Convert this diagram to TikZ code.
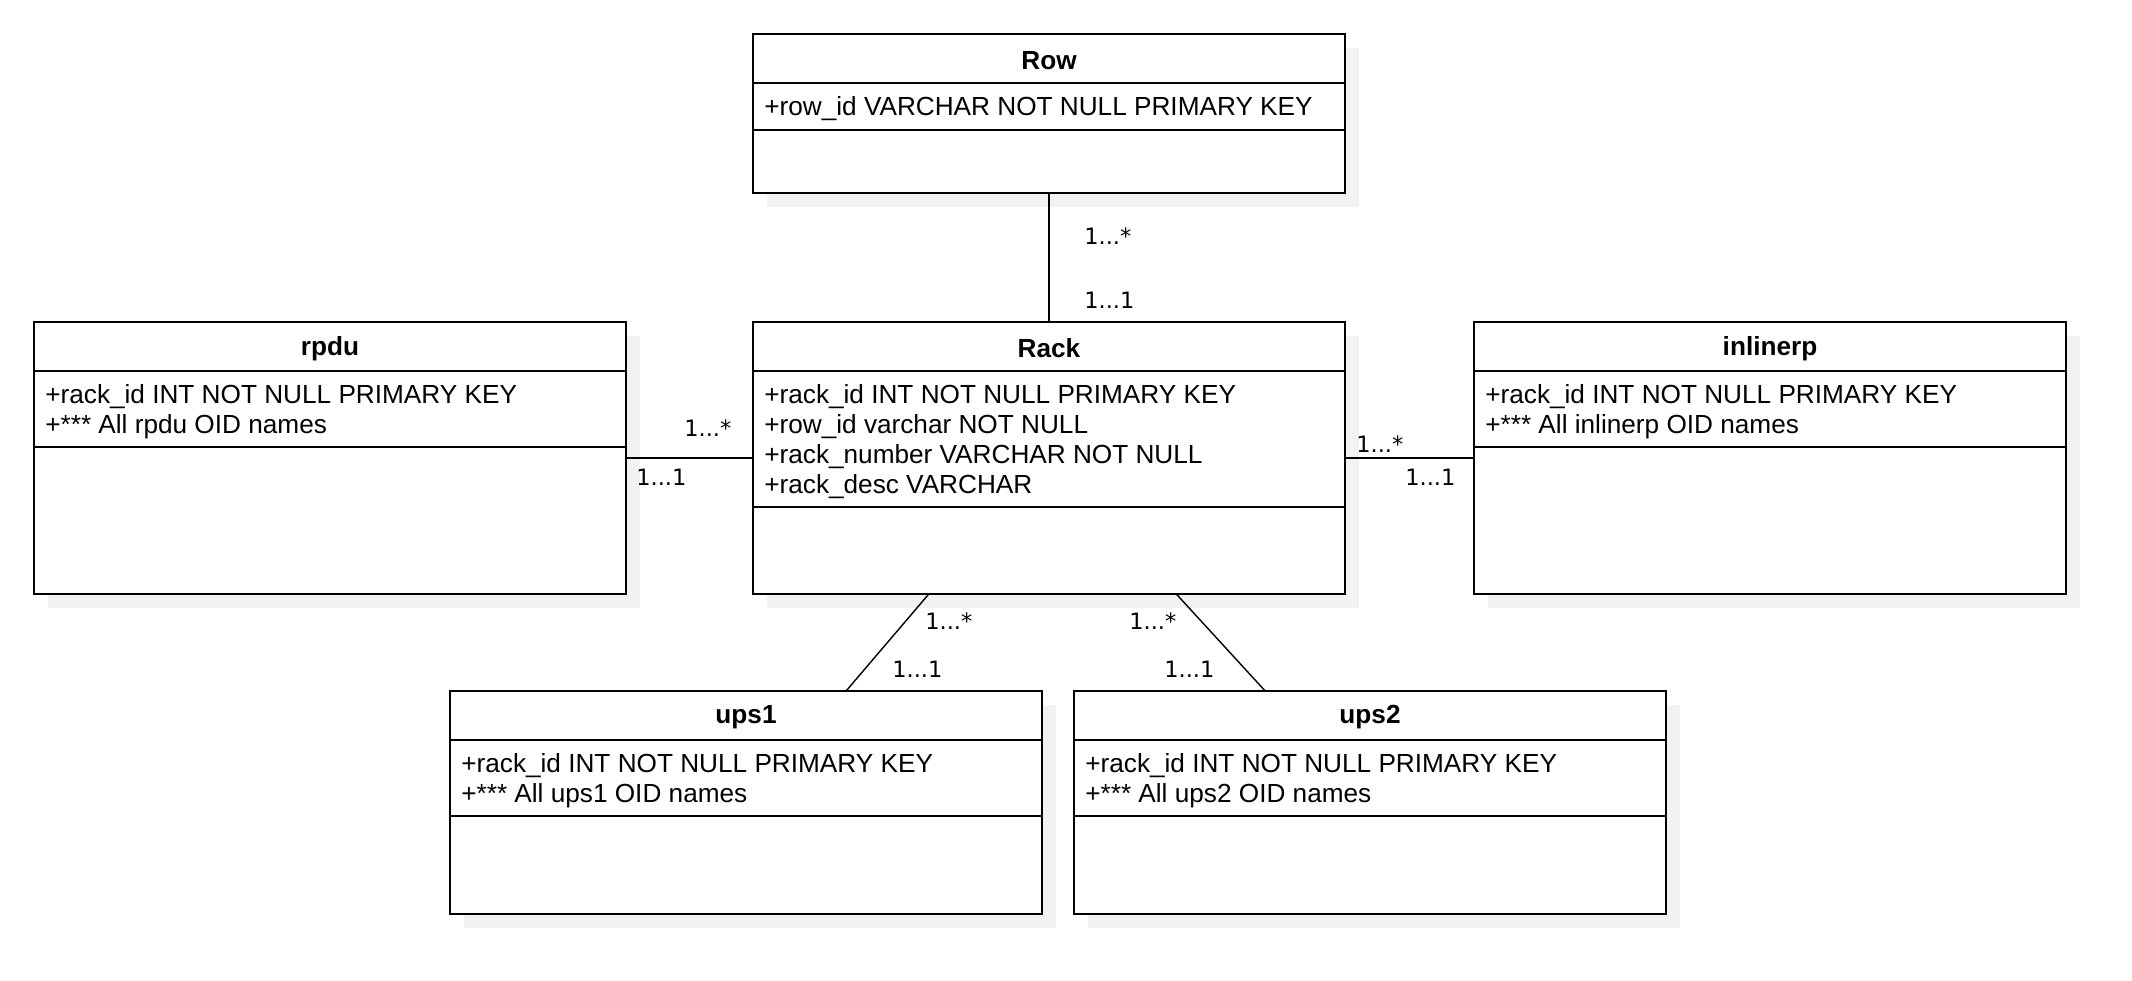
\documentclass[tikz,border=0pt]{standalone}
\usepackage{fontspec}
\setmainfont{Liberation Sans}
\newfontfamily\multfont{DejaVu Sans}
\usetikzlibrary{calc}
\definecolor{ink}{HTML}{000000}
\definecolor{shadowgray}{HTML}{F2F2F2}
\newcommand{\clw}{11.84}   % class box width
\newcommand{\hdr}{0.98}    % title band height
\newcommand{\shoff}{0.28}  % shadow offset
% #1 name, #2 x, #3 y (top left), #4 height, #5 attribute band, #6 title, #7 attributes
\newcommand{\umlclass}[7]{%
  \begin{scope}[shift={(#2,#3)}, name prefix=#1-]
    \fill[shadowgray] (\shoff,-\shoff) rectangle ({\clw+\shoff},{-#4-\shoff});
    \draw[ink, line width=.95pt, fill=white] (0,0) rectangle (\clw,-#4);
    \draw[ink, line width=.95pt] (0,-\hdr) -- (\clw,-\hdr);
    \draw[ink, line width=.95pt] (0,{-\hdr-#5}) -- (\clw,{-\hdr-#5});
    \coordinate (nw) at (0,0);
    \coordinate (ne) at (\clw,0);
    \coordinate (sw) at (0,-#4);
    \coordinate (se) at (\clw,-#4);
    \coordinate (n)  at ({\clw/2},0);
    \coordinate (s)  at ({\clw/2},-#4);
    \coordinate (w)  at (0,{-#4/2});
    \coordinate (e)  at (\clw,{-#4/2});
    \node[classname] (title) at ({\clw/2},{-\hdr/2-0.04}) {#6};
    \node[attrs] (attrs) at (0.22,{-\hdr-#5/2-0.05}) {#7};
  \end{scope}}

\begin{document}
\begin{tikzpicture}[
  classname/.style={inner sep=0pt, font=\bfseries\fontsize{14.9}{17.1}\selectfont},
  attrs/.style={anchor=west, align=left, inner sep=0pt, font=\fontsize{14.9}{17.07}\selectfont},
  mult/.style={anchor=west, inner sep=0pt, font=\multfont\fontsize{12.8}{15}\selectfont},
  assoc/.style={ink, line width=.8pt}]

\useasboundingbox (0,0) rectangle (42.64,-19.6);

% ================= classes =================
\umlclass{Row}{15.06}{-0.68}{3.18}{0.94}{Row}
  {+row\_id VARCHAR NOT NULL PRIMARY KEY}
\umlclass{rpdu}{0.68}{-6.44}{5.44}{1.52}{rpdu}
  {+rack\_id INT NOT NULL PRIMARY KEY\\+*** All rpdu OID names}
\umlclass{Rack}{15.06}{-6.44}{5.44}{2.72}{Rack}
  {+rack\_id INT NOT NULL PRIMARY KEY\\+row\_id varchar NOT NULL\\+rack\_number VARCHAR NOT NULL\\+rack\_desc VARCHAR}
\umlclass{inlinerp}{29.48}{-6.44}{5.44}{1.52}{inlinerp}
  {+rack\_id INT NOT NULL PRIMARY KEY\\+*** All inlinerp OID names}
\umlclass{ups1}{9.00}{-13.82}{4.46}{1.52}{ups1}
  {+rack\_id INT NOT NULL PRIMARY KEY\\+*** All ups1 OID names}
\umlclass{ups2}{21.48}{-13.82}{4.46}{1.52}{ups2}
  {+rack\_id INT NOT NULL PRIMARY KEY\\+*** All ups2 OID names}

% ================= associations =================
\draw[assoc] (Row-s) -- (Rack-n);
\draw[assoc] (rpdu-e) -- (Rack-w);
\draw[assoc] (Rack-e) -- (inlinerp-w);
\draw[assoc] ($(Rack-sw)!0.297!(Rack-se)$) -- ($(ups1-nw)!0.669!(ups1-ne)$);
\draw[assoc] ($(Rack-sw)!0.715!(Rack-se)$) -- ($(ups2-nw)!0.323!(ups2-ne)$);

% multiplicities
\node[mult] (rowmany)  at (21.68,-4.72)  {1...*};
\node[mult] (rowone)   at (21.68,-6.00)  {1...1};
\node[mult] (rpdumany) at (13.68,-8.56)  {1...*};
\node[mult] (rpduone)  at (12.72,-9.54)  {1...1};
\node[mult] (inlmany)  at (27.12,-8.88)  {1...*};
\node[mult] (inlone)   at (28.10,-9.54)  {1...1};
\node[mult] (upsamany) at (18.50,-12.42) {1...*};
\node[mult] (upsaone)  at (17.84,-13.38) {1...1};
\node[mult] (upsbmany) at (22.58,-12.42) {1...*};
\node[mult] (upsbone)  at (23.28,-13.38) {1...1};

\end{tikzpicture}
\end{document}
